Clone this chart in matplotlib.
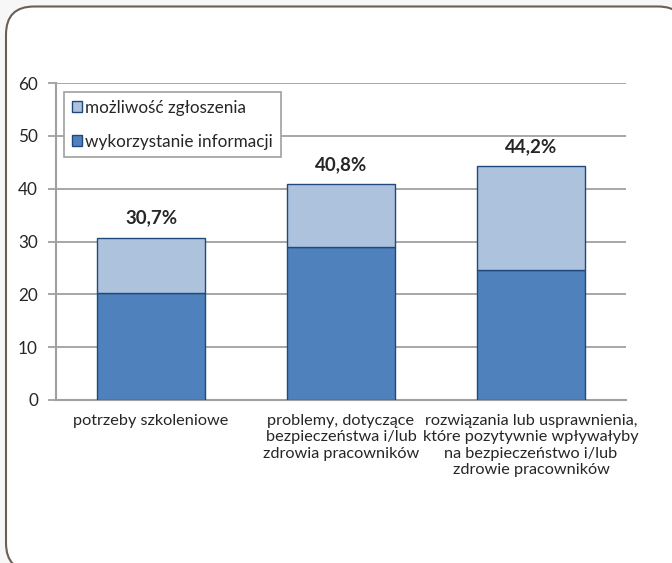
import matplotlib.pyplot as plt
from matplotlib.patches import FancyBboxPatch, Patch

plt.rcParams["font.family"] = ["Lato", "DejaVu Sans"]

categories = [
    "potrzeby szkoleniowe",
    "problemy, dotyczące\nbezpieczeństwa i/lub\nzdrowia pracowników",
    "rozwiązania lub usprawnienia,\nktóre pozytywnie wpływałyby\nna bezpieczeństwo i/lub\nzdrowie pracowników",
]
wykorzystanie = [20.3, 28.9, 24.6]
mozliwosc = [10.4, 11.9, 19.6]
totals = ["30,7%", "40,8%", "44,2%"]
series_names = ["możliwość zgłoszenia", "wykorzystanie informacji"]
yticks = [0, 10, 20, 30, 40, 50, 60]

dark = "#4f81bd"
light = "#adc3dd"
edge = "#1f497d"
grid = "#a0a0a0"
txt = "#262626"

fig = plt.figure(figsize=(6.72, 5.63), dpi=100, facecolor="#f7f7f7")

# rounded frame around the chart area (drawn in inches so corners stay round)
frame = FancyBboxPatch((0.06, -0.08), 6.80, 5.645,
                       boxstyle="round,pad=0,rounding_size=0.28",
                       transform=fig.dpi_scale_trans,
                       facecolor="white", edgecolor="#6b5e55", linewidth=1.5,
                       zorder=-10)
fig.patches.append(frame)

ax = fig.add_axes([56 / 672, 1 - 400 / 563, 570 / 672, 317 / 563])
ax.set_facecolor("none")

x = list(range(len(categories)))
ax.bar(x, wykorzystanie, width=0.57, color=dark, edgecolor=edge, linewidth=1, zorder=3)
ax.bar(x, mozliwosc, width=0.57, bottom=wykorzystanie, color=light,
       edgecolor=edge, linewidth=1, zorder=3)

for i in x:
    top = wykorzystanie[i] + mozliwosc[i]
    ax.annotate(totals[i], (i, top), xytext=(0, 8), textcoords="offset points",
                ha="center", va="bottom", fontsize=13.5, fontweight="bold", color=txt)

ax.set_xlim(-0.5, 2.5)
ax.set_ylim(0, 60)
ax.set_yticks(yticks)
ax.yaxis.grid(True, color=grid, linewidth=1.3, zorder=0)
ax.set_axisbelow(True)
ax.set_xticks(x)
ax.set_xticklabels(categories, fontsize=11.7, color=txt, linespacing=1.23, va="top")
ax.tick_params(axis="x", length=0, pad=10)
ax.tick_params(axis="y", length=6, width=1.3, color=grid, pad=7, labelsize=12.3,
               labelcolor=txt)
for s in ["top", "right"]:
    ax.spines[s].set_visible(False)
for s in ["left", "bottom"]:
    ax.spines[s].set_color(grid)
    ax.spines[s].set_linewidth(1.5)

handles = [Patch(facecolor=light, edgecolor=edge, linewidth=1),
           Patch(facecolor=dark, edgecolor=edge, linewidth=1)]
leg = ax.legend(handles, series_names, loc="upper left",
                bbox_to_anchor=(0.014, 0.972), fontsize=12.3, frameon=True,
                fancybox=False, edgecolor=grid, framealpha=1,
                handlelength=0.6, handleheight=0.6, handletextpad=0.2,
                labelspacing=1.05, borderpad=0.45, borderaxespad=0)
leg.get_frame().set_linewidth(1.2)
for t in leg.get_texts():
    t.set_color(txt)

fig.savefig("out.png", dpi=100, facecolor=fig.get_facecolor())
